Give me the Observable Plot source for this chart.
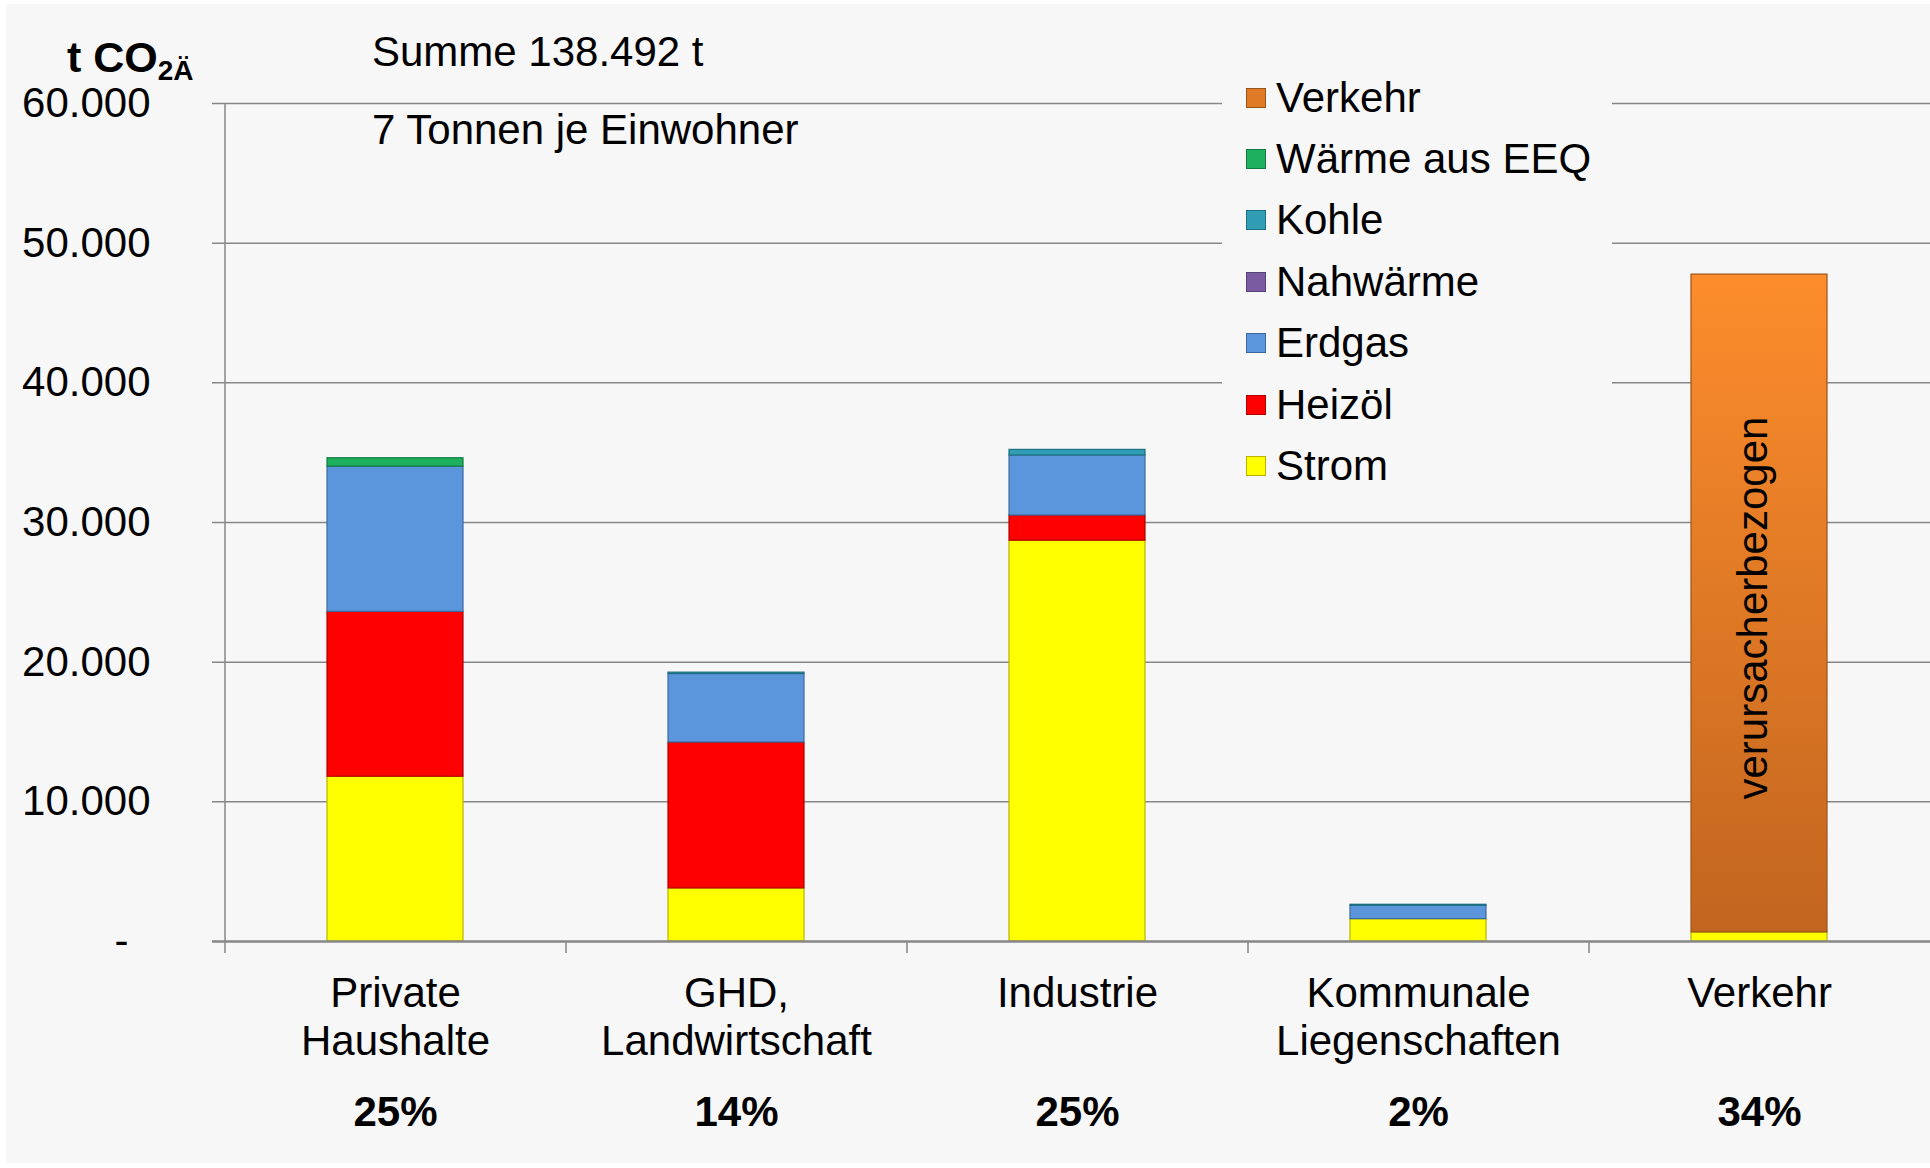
<!DOCTYPE html>
<html>
<head>
<meta charset="utf-8">
<script src="https://cdn.jsdelivr.net/npm/d3@7"></script>
<script src="https://cdn.jsdelivr.net/npm/@observablehq/plot@0.6"></script>
<style>
  html, body { margin: 0; padding: 0; background: #ffffff; }
  body { width: 1930px; height: 1168px; overflow: hidden; position: relative;
         font-family: "Liberation Sans", Arial, sans-serif; color: #000; }
  #bg { position: absolute; left: 6px; top: 4px; width: 1924px; height: 1159px; background: #f7f7f7; }
  #chart { position: absolute; left: 0; top: 0; }
  .note { position: absolute; font-size: 42px; line-height: 42px; white-space: nowrap; }
  .unit { font-weight: bold; font-size: 43px; }
  .unit sub { font-size: 28px; vertical-align: -8px; line-height: 0; }
  #legend { position: absolute; left: 1222px; top: 67px; width: 390px; background: #f7f7f7; }
  .row { height: 61.4px; display: flex; align-items: center; padding-left: 24px; }
  .sw { width: 20px; height: 20px; box-sizing: border-box; border: 1px solid; margin-right: 10px; flex: none; }
  .lab { font-size: 42px; line-height: 42px; white-space: nowrap; }
</style>
</head>
<body>
<div id="bg"></div>
<div id="chart"></div>
<div class="note unit" id="unit" style="left:67px; top:36px;"></div>
<div class="note" id="sum" style="left:372px; top:31px;"></div>
<div class="note" id="percap" style="left:372px; top:109px;"></div>
<div id="legend"></div>
<script>
// ---------- data ----------
const categories = ["Private Haushalte", "GHD, Landwirtschaft", "Industrie", "Kommunale Liegenschaften", "Verkehr"];
const categoryLabels = ["Private\nHaushalte", "GHD,\nLandwirtschaft", "Industrie", "Kommunale\nLiegenschaften", "Verkehr"];
const shareLabels = ["25%", "14%", "25%", "2%", "34%"];

const seriesNames = ["Strom", "Heizöl", "Erdgas", "Nahwärme", "Kohle", "Wärme aus EEQ", "Verkehr"];
const strom      = [11800,  3800, 28700, 1600,   650];
const heizoel    = [11800, 10450,  1800,    0,     0];
const erdgas     = [10400,  4900,  4300,  960,     0];
const nahwaerme  = [    0,     0,     0,    0,     0];
const kohle      = [    0,   100,   400,   70,     0];
const waermeEEQ  = [  600,     0,     0,    0,     0];
const verkehr    = [    0,     0,     0,    0, 47100];
const seriesValues = [strom, heizoel, erdgas, nahwaerme, kohle, waermeEEQ, verkehr];

const yTicks = [0, 10000, 20000, 30000, 40000, 50000, 60000];
const unitMain = "t CO";
const unitSub = "2Ä";
const sumText = "Summe 138.492 t";
const perCapitaText = "7 Tonnen je Einwohner";
const barNote = "verursacherbezogen";

const seriesFill   = ["#ffff00", "#ff0000", "#5b96dc", "#7a5aa0", "#2f9db5", "#1db15f", "url(#verkehrGrad)"];
const seriesStroke = ["#b5b500", "#b00000", "#3c6a9e", "#55407a", "#1f6f80", "#137a40", "#9a5418"];
const legendFill   = ["#ffff00", "#ff0000", "#5b96dc", "#7a5aa0", "#2f9db5", "#1db15f", "#e07a26"];

// ---------- build stacked rows ----------
const rows = [];
categories.forEach((c, j) => {
  let acc = 0;
  seriesNames.forEach((s, i) => {
    const v = seriesValues[i][j];
    if (v > 0) rows.push({category: c, series: s, y1: acc, y2: acc + v});
    acc += v;
  });
});
const totals = categories.map((c, j) => d3.sum(seriesValues, s => s[j]));

// ---------- layout ----------
const W = 1930, H = 1168, mL = 225, mR = 0, mT = 103, mB = 227;
const yMax = 60000;
const tickPx = 12;
const tickLen = tickPx * yMax / (H - mT - mB);
const step = (W - mL - mR) / categories.length;
const de = d3.formatLocale({decimal: ",", thousands: ".", grouping: [3], currency: ["", " €"]});
const fmt = de.format(",");
const gridColor = "#878787";

const marks = [
  Plot.ruleY(yTicks.filter(d => d > 0), {y: d => d, stroke: gridColor, strokeWidth: 1.5, insetLeft: -13})
];
seriesNames.forEach((s, i) => {
  marks.push(Plot.rectY(rows.filter(r => r.series === s), {
    x: "category", y1: "y1", y2: "y2",
    fill: seriesFill[i], stroke: seriesStroke[i], strokeWidth: 1.2
  }));
});
marks.push(
  Plot.ruleY([0], {y: d => d, stroke: gridColor, strokeWidth: 2.5, insetLeft: -13}),
  Plot.ruleX([categories[0]], {x: d => d, dx: -step / 2, y1: yMax, y2: -tickLen, stroke: gridColor, strokeWidth: 1.5}),
  Plot.ruleX(categories.slice(1), {x: d => d, dx: -step / 2, y1: 0, y2: -tickLen, stroke: gridColor, strokeWidth: 1.5}),
  Plot.text(yTicks.filter(d => d > 0), {y: d => d, text: d => fmt(d), frameAnchor: "left", textAnchor: "end", dx: -75, fontSize: 42}),
  Plot.text([0], {y: d => d, text: () => "-", frameAnchor: "left", textAnchor: "middle", dx: -104, fontSize: 42}),
  Plot.text(categories, {x: d => d, y: () => 0, text: (d, i) => categoryLabels[i], lineAnchor: "top", dy: 31, lineHeight: 1.15, fontSize: 42}),
  Plot.text(categories, {x: d => d, y: () => 0, text: (d, i) => shareLabels[i], lineAnchor: "top", dy: 155, fontWeight: "bold", fontSize: 42}),
  Plot.text([categories[4]], {x: d => d, y: () => totals[4] / 2, text: () => barNote, rotate: -90, dx: -6, fontSize: 42})
);

const svg = Plot.plot({
  width: W, height: H,
  marginLeft: mL, marginRight: mR, marginTop: mT, marginBottom: mB,
  style: {background: "transparent", fontFamily: "'Liberation Sans', Arial, sans-serif", color: "#000", overflow: "visible"},
  x: {domain: categories, paddingInner: 0.6, paddingOuter: 0.3, axis: null},
  y: {domain: [0, yMax], axis: null},
  marks
});

// gradient for the Verkehr bar
const ns = "http://www.w3.org/2000/svg";
const defs = document.createElementNS(ns, "defs");
const grad = document.createElementNS(ns, "linearGradient");
grad.setAttribute("id", "verkehrGrad");
grad.setAttribute("x1", "0"); grad.setAttribute("y1", "0");
grad.setAttribute("x2", "0"); grad.setAttribute("y2", "1");
[["0%", "#fd8d2c"], ["100%", "#c2651f"]].forEach(([o, c]) => {
  const st = document.createElementNS(ns, "stop");
  st.setAttribute("offset", o); st.setAttribute("stop-color", c);
  grad.appendChild(st);
});
defs.appendChild(grad);
svg.insertBefore(defs, svg.firstChild);
document.getElementById("chart").appendChild(svg);

// texts
document.getElementById("unit").innerHTML = unitMain + "<sub>" + unitSub + "</sub>";
document.getElementById("sum").textContent = sumText;
document.getElementById("percap").textContent = perCapitaText;

// legend (top to bottom = reverse stack order)
const legend = document.getElementById("legend");
seriesNames.map((s, i) => i).reverse().forEach(i => {
  const row = document.createElement("div");
  row.className = "row";
  const sw = document.createElement("div");
  sw.className = "sw";
  sw.style.background = legendFill[i];
  sw.style.borderColor = seriesStroke[i];
  const lab = document.createElement("div");
  lab.className = "lab";
  lab.textContent = seriesNames[i];
  row.appendChild(sw); row.appendChild(lab);
  legend.appendChild(row);
});
</script>
</body>
</html>
